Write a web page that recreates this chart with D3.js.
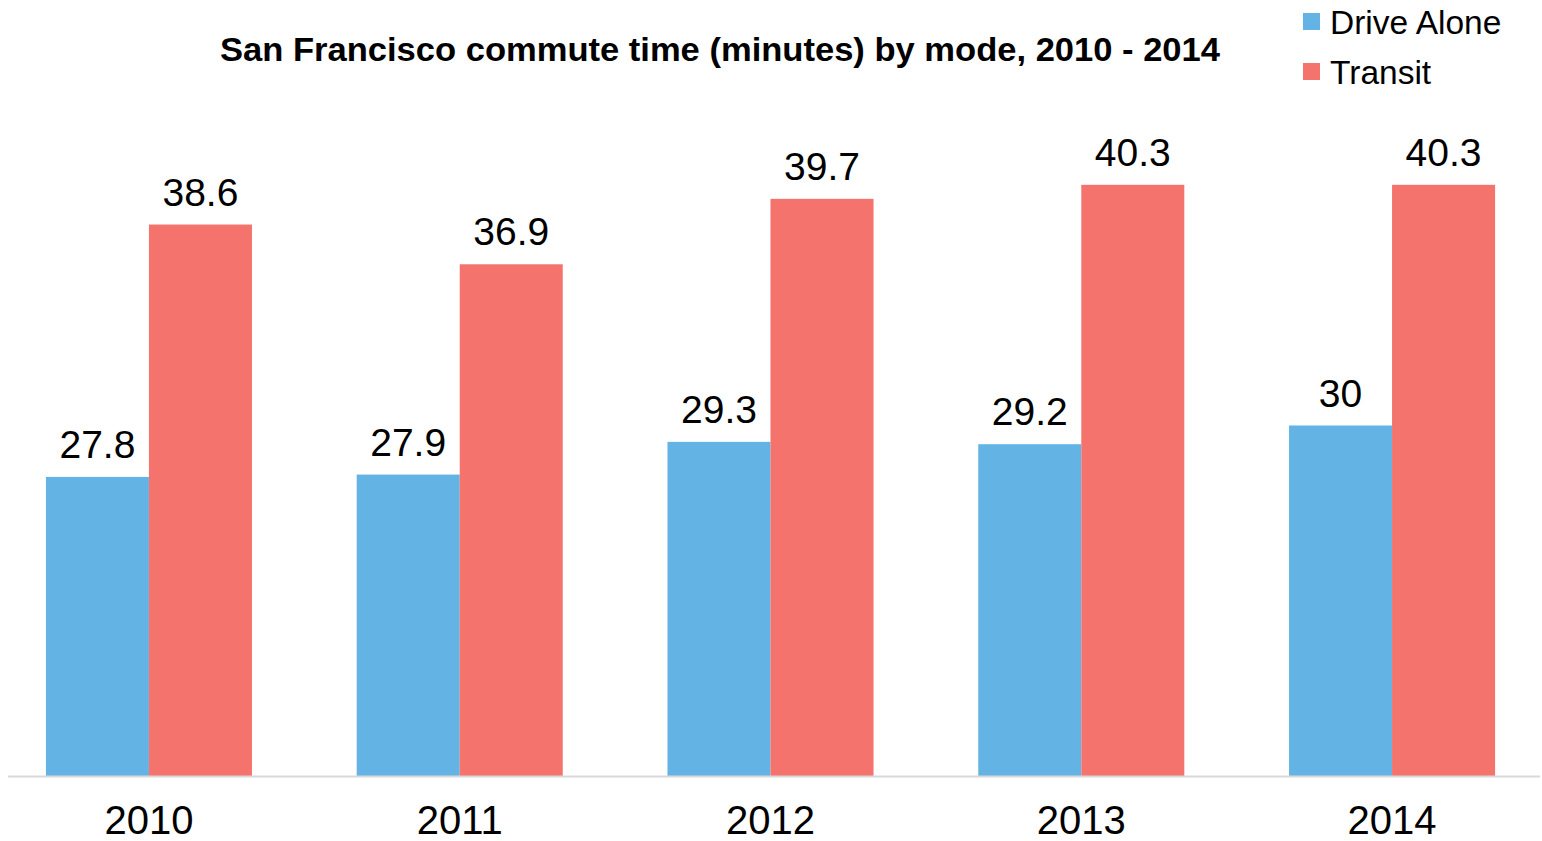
<!DOCTYPE html>
<html>
<head>
<meta charset="utf-8">
<script src="https://cdn.jsdelivr.net/npm/d3@7"></script>
<style>
  body { margin: 0; background: #fff; }
  text { font-family: "Liberation Sans", Arial, sans-serif; fill: #000; }
</style>
</head>
<body>
<script>
// chart data
var years = ["2010", "2011", "2012", "2013", "2014"];
var driveAlone = [27.8, 27.9, 29.3, 29.2, 30];
var transit = [38.6, 36.9, 39.7, 40.3, 40.3];
var seriesNames = ["Drive Alone", "Transit"];
var colors = ["#63b4e4", "#f4736d"];

var width = 1542, height = 841;

var svg = d3.select("body").append("svg")
            .attr("width", width)
            .attr("height", height);

var x = d3.scaleBand()
          .domain(years)
          .range([8, 1533])
          .paddingInner(0.337)
          .paddingOuter(0.122);

var xSub = d3.scaleBand()
             .domain(seriesNames)
             .range([0, x.bandwidth()]);

var y = d3.scaleLinear()
          .domain([15, 45])
          .range([776, 75]);

var rows = years.map(function(yr, i) {
  return {year: yr, values: [driveAlone[i], transit[i]]};
});

var groups = svg.selectAll("g.year")
                .data(rows)
                .enter().append("g")
                .attr("class", "year")
                .attr("transform", function(d){ return "translate(" + x(d.year) + ",0)"; });

groups.selectAll("rect")
      .data(function(d){ return d.values.map(function(v, j){ return {name: seriesNames[j], value: v, c: colors[j]}; }); })
      .enter().append("rect")
      .attr("x", function(d){ return xSub(d.name); })
      .attr("width", xSub.bandwidth())
      .attr("y", function(d){ return y(d.value); })
      .attr("height", function(d){ return y(15) - y(d.value); })
      .attr("fill", function(d){ return d.c; });

groups.selectAll("text.val")
      .data(function(d){ return d.values.map(function(v, j){ return {name: seriesNames[j], value: v}; }); })
      .enter().append("text")
      .attr("class", "val")
      .attr("x", function(d){ return xSub(d.name) + xSub.bandwidth() / 2; })
      .attr("y", function(d){ return y(d.value) - 19; })
      .attr("text-anchor", "middle")
      .style("font-size", "39px")
      .text(function(d){ return d.value; });

// x axis: baseline and year labels
svg.append("line")
   .attr("x1", 8).attr("x2", 1540)
   .attr("y1", y(15) + 0.5).attr("y2", y(15) + 0.5)
   .attr("stroke", "#d9d9d9")
   .attr("stroke-width", 2);

svg.selectAll("text.year")
   .data(years)
   .enter().append("text")
   .attr("class", "year")
   .attr("x", function(d){ return x(d) + x.bandwidth() / 2; })
   .attr("y", 834)
   .attr("text-anchor", "middle")
   .style("font-size", "40px")
   .text(function(d){ return d; });

// title
svg.append("text")
   .attr("x", 720)
   .attr("y", 61)
   .attr("text-anchor", "middle")
   .attr("textLength", 1000)
   .attr("lengthAdjust", "spacingAndGlyphs")
   .style("font-size", "33px")
   .style("font-weight", "bold")
   .text("San Francisco commute time (minutes) by mode, 2010 - 2014");

// legend
var legend = svg.selectAll("g.legend")
                .data(seriesNames)
                .enter().append("g")
                .attr("class", "legend")
                .attr("transform", function(d, i){ return "translate(1303," + (13 + i * 50) + ")"; });

legend.append("rect")
      .attr("width", 17).attr("height", 17)
      .attr("fill", function(d, i){ return colors[i]; });

legend.append("text")
      .attr("x", 27)
      .attr("y", 21)
      .style("font-size", "33.5px")
      .text(function(d){ return d; });
</script>
</body>
</html>
